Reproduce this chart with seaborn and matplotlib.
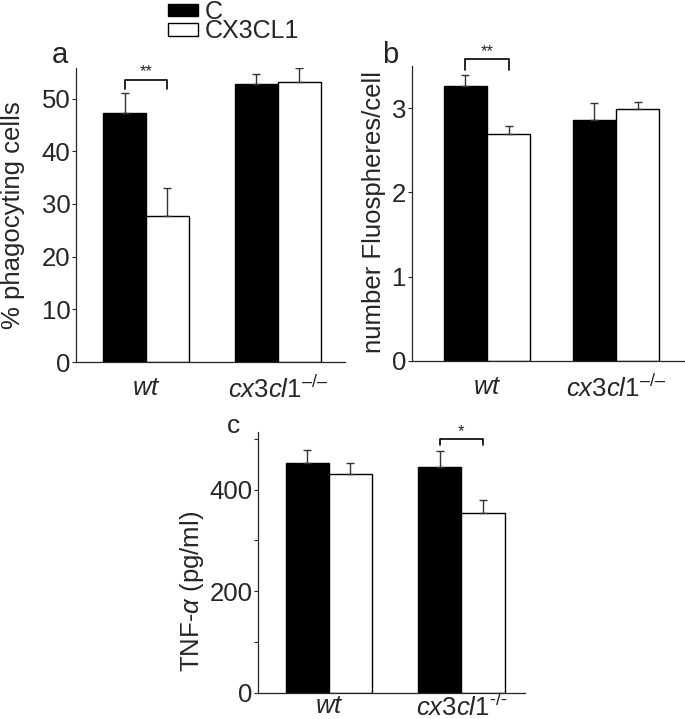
import pandas as pd
import seaborn as sns
import matplotlib.pyplot as plt
from matplotlib.patches import Patch

sns.set_theme(style="ticks")
plt.rcParams['font.family'] = ['Liberation Sans', 'DejaVu Sans']
plt.rcParams['mathtext.fontset'] = 'custom'
plt.rcParams['mathtext.rm'] = 'Liberation Sans'
plt.rcParams['mathtext.it'] = 'Liberation Sans:italic'

FS = 18.5

groups = ["wt", "cx3cl1"]
conditions = ["C", "CX3CL1"]
group_labels_ab = [r"$\mathit{wt}$", "$\\mathit{cx3cl1}^{\\mathit{\u2013/\u2013}}$"]
group_labels_c = [r"$\mathit{wt}$", "$\\mathit{cx3cl1}^{\\mathit{\u2010/\u2010}}$"]

# panel a: % phagocyting cells
phago_c = [47.3, 52.7]
phago_cx = [27.8, 53.1]
phago_c_err = [3.7, 1.9]
phago_cx_err = [5.2, 2.7]

# panel b: number fluospheres / cell
fluo_c = [3.26, 2.86]
fluo_cx = [2.69, 2.99]
fluo_c_err = [0.13, 0.20]
fluo_cx_err = [0.10, 0.08]

# panel c: TNF-alpha (pg/ml)
tnf_c = [453, 445]
tnf_cx = [431, 354]
tnf_c_err = [24, 31]
tnf_cx_err = [21, 26]


def make_df(c_vals, cx_vals):
    rows = []
    for g, v in zip(groups, c_vals):
        rows.append({"group": g, "cond": "C", "value": v})
    for g, v in zip(groups, cx_vals):
        rows.append({"group": g, "cond": "CX3CL1", "value": v})
    return pd.DataFrame(rows)


def draw_panel(ax, c_vals, cx_vals, c_err, cx_err, width, ylabel, label_xy,
               xlabels, xpad):
    df = make_df(c_vals, cx_vals)
    sns.barplot(data=df, x="group", y="value", hue="cond", order=groups,
                hue_order=conditions, palette=["black", "white"],
                edgecolor="black", linewidth=1, width=width, errorbar=None,
                saturation=1, ax=ax)
    ax.legend_.remove()
    bars = list(ax.containers)
    for cont, errs in zip(bars, [c_err, cx_err]):
        for bar, e in zip(cont, errs):
            xc = bar.get_x() + bar.get_width() / 2
            ax.errorbar(xc, bar.get_height(), yerr=[[0], [e]], color="#333333",
                        lw=1, capsize=3, capthick=1, zorder=1)
    sns.despine(ax=ax)
    ax.set_xlabel("")
    ax.set_ylabel(ylabel, fontsize=FS)
    ax.yaxis.set_label_coords(*label_xy)
    ax.set_xticks(range(len(groups)))
    ax.set_xticklabels(xlabels, fontsize=FS)
    ax.tick_params(axis="x", length=0, pad=xpad)
    ax.tick_params(axis="y", labelsize=FS, length=3, width=0.8, pad=1)
    ax.spines["left"].set_linewidth(0.9)
    ax.spines["bottom"].set_linewidth(0.9)
    return bars


def bracket(ax, bars, idx, y_top, y_low, label):
    b1 = bars[0][idx]
    b2 = bars[1][idx]
    x1 = b1.get_x() + b1.get_width() / 2
    x2 = b2.get_x() + b2.get_width() / 2
    ax.plot([x1, x1, x2, x2], [y_low, y_top, y_top, y_low], color="black",
            lw=1.2, clip_on=False)
    ax.text((x1 + x2) / 2, y_top, label, ha="center", va="bottom", fontsize=12)


fig = plt.figure(figsize=(6.85, 7.19), dpi=100)
ax_a = fig.add_axes([0.111, 0.4965, 0.393, 0.409])
ax_b = fig.add_axes([0.6015, 0.498, 0.3985, 0.41])
ax_c = fig.add_axes([0.377, 0.0366, 0.389, 0.363])

bars_a = draw_panel(ax_a, phago_c, phago_cx, phago_c_err, phago_cx_err, 0.65,
                    "% phagocyting cells", (-0.19, 0.5), group_labels_ab, 10)
ax_a.set_ylim(0, 55.8)
ax_a.set_xlim(-0.53, 1.51)
ax_a.set_yticks([0, 10, 20, 30, 40, 50])

bars_b = draw_panel(ax_b, fluo_c, fluo_cx, fluo_c_err, fluo_cx_err, 0.67,
                    "number Fluospheres/cell", (-0.095, 0.505), group_labels_ab, 10)
ax_b.set_ylim(0, 3.5)
ax_b.set_xlim(-0.58, 1.535)
ax_b.set_yticks([0, 1, 2, 3])

bars_c = draw_panel(ax_c, tnf_c, tnf_cx, tnf_c_err, tnf_cx_err, 0.65,
                    r"TNF-$\alpha$ (pg/ml)", (-0.195, 0.386), group_labels_c, 1)
ax_c.set_ylim(0, 514)
ax_c.set_xlim(-0.533, 1.477)
ax_c.set_yticks([0, 100, 200, 300, 400, 500])
ax_c.set_yticklabels(["0", "", "200", "", "400", ""])

bracket(ax_a, bars_a, 0, 53.6, 51.8, "**")
bracket(ax_b, bars_b, 0, 3.58, 3.46, "**")
bracket(ax_c, bars_c, 1, 500, 487, "*")

fig.text(52 / 685, 1 - 63 / 719, "a", fontsize=21, ha="left", va="baseline")
fig.text(382 / 685, 1 - 63 / 719, "b", fontsize=21, ha="left", va="baseline")
fig.text(227 / 685, 1 - 433 / 719, "c", fontsize=19, ha="left", va="baseline")

handles = [Patch(facecolor="black", edgecolor="black"),
           Patch(facecolor="white", edgecolor="black")]
fig.legend(handles, conditions, loc="upper left", bbox_to_anchor=(168 / 685, 1.0),
           frameon=False, fontsize=18, handlelength=1.2, handleheight=0.4,
           handletextpad=0.25, labelspacing=-0.18, borderpad=0, borderaxespad=0)

plt.savefig("out.png", dpi=100)
